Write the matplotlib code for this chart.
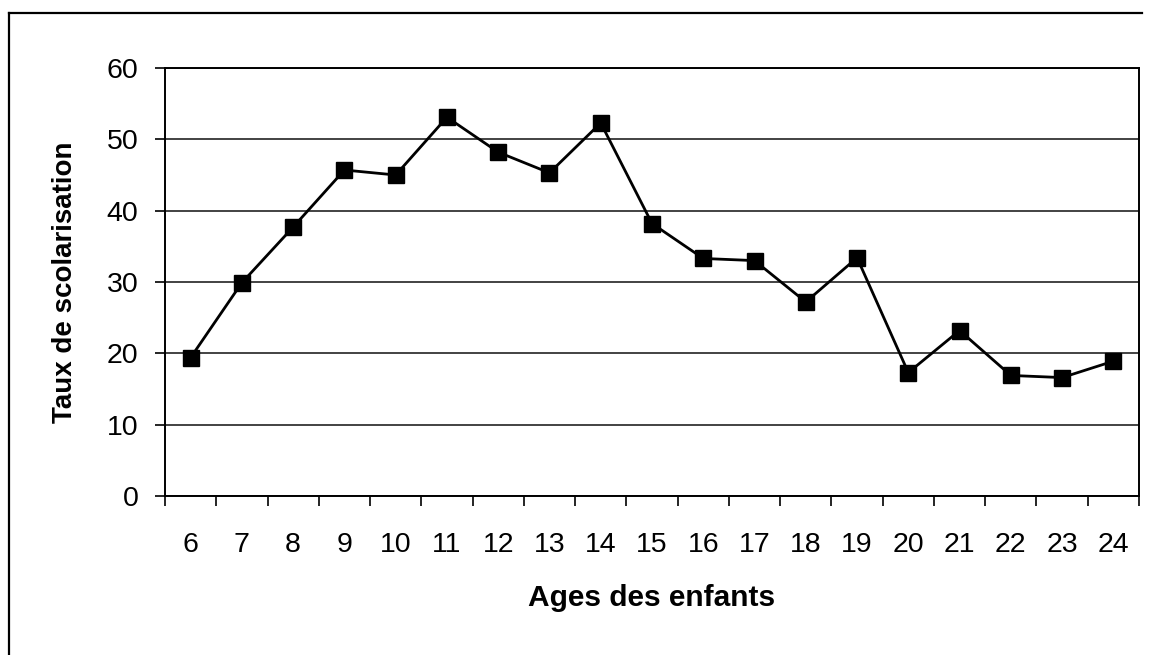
import matplotlib
matplotlib.use("Agg")
import matplotlib.pyplot as plt
from matplotlib.lines import Line2D
import numpy as np

ages = ["6", "7", "8", "9", "10", "11", "12", "13", "14", "15",
        "16", "17", "18", "19", "20", "21", "22", "23", "24"]
taux = [19.4, 29.9, 37.7, 45.7, 45.0, 53.1, 48.2, 45.3, 52.3, 38.2,
        33.3, 33.0, 27.2, 33.4, 17.3, 23.2, 16.9, 16.6, 18.9]
yticks = [0, 10, 20, 30, 40, 50, 60]

plt.rcParams['font.family'] = ['Liberation Sans', 'DejaVu Sans']

W, H = 1151, 655
fig = plt.figure(figsize=(W / 100, H / 100), dpi=100)
L, R, T, B = 165, 1139, 68, 496
ax = fig.add_axes([L / W, 1 - B / H, (R - L) / W, (B - T) / H])

x = np.arange(len(ages))
ax.plot(x, taux, color='black', lw=2.0, marker='s', markersize=11,
        markerfacecolor='black', markeredgecolor='black', zorder=3)

ax.set_xlim(-0.5, len(ages) - 0.5)
ax.set_ylim(0, 60)
ax.set_yticks(yticks)
ax.set_yticklabels([str(v) for v in yticks])
ax.set_xticks(x)
ax.set_xticklabels(ages)
ax.set_xticks(np.arange(-0.5, len(ages)), minor=True)

ax.tick_params(axis='x', which='major', length=0, pad=26, labelsize=20.5)
ax.tick_params(axis='x', which='minor', length=7, width=1.2, direction='out')
ax.tick_params(axis='y', which='major', length=7, width=1.2, direction='out',
               pad=12, labelsize=20.5)

ax.yaxis.grid(True, color='#222222', lw=1.2)
ax.set_axisbelow(True)
for s in ax.spines.values():
    s.set_color('black')
    s.set_linewidth(1.4)

ax.set_xlabel("Ages des enfants", fontsize=21.5, fontweight='bold')
ax.set_ylabel("Taux de scolarisation", fontsize=20, fontweight='bold')
ax.xaxis.label.set_va('center')
ax.yaxis.label.set_va('center')
ax.xaxis.set_label_coords((652 - L) / (R - L), (B - 598) / (B - T))
ax.yaxis.set_label_coords((65 - L) / (R - L), 0.5)

# outer frame (top and left edges visible)
yt = 1 - 13 / H
xl = 9 / W
fig.add_artist(Line2D([xl, 1142 / W], [yt, yt], transform=fig.transFigure,
                      color='black', lw=1.6))
fig.add_artist(Line2D([xl, xl], [0, yt], transform=fig.transFigure,
                      color='black', lw=1.6))

fig.savefig("out.png", dpi=100)
